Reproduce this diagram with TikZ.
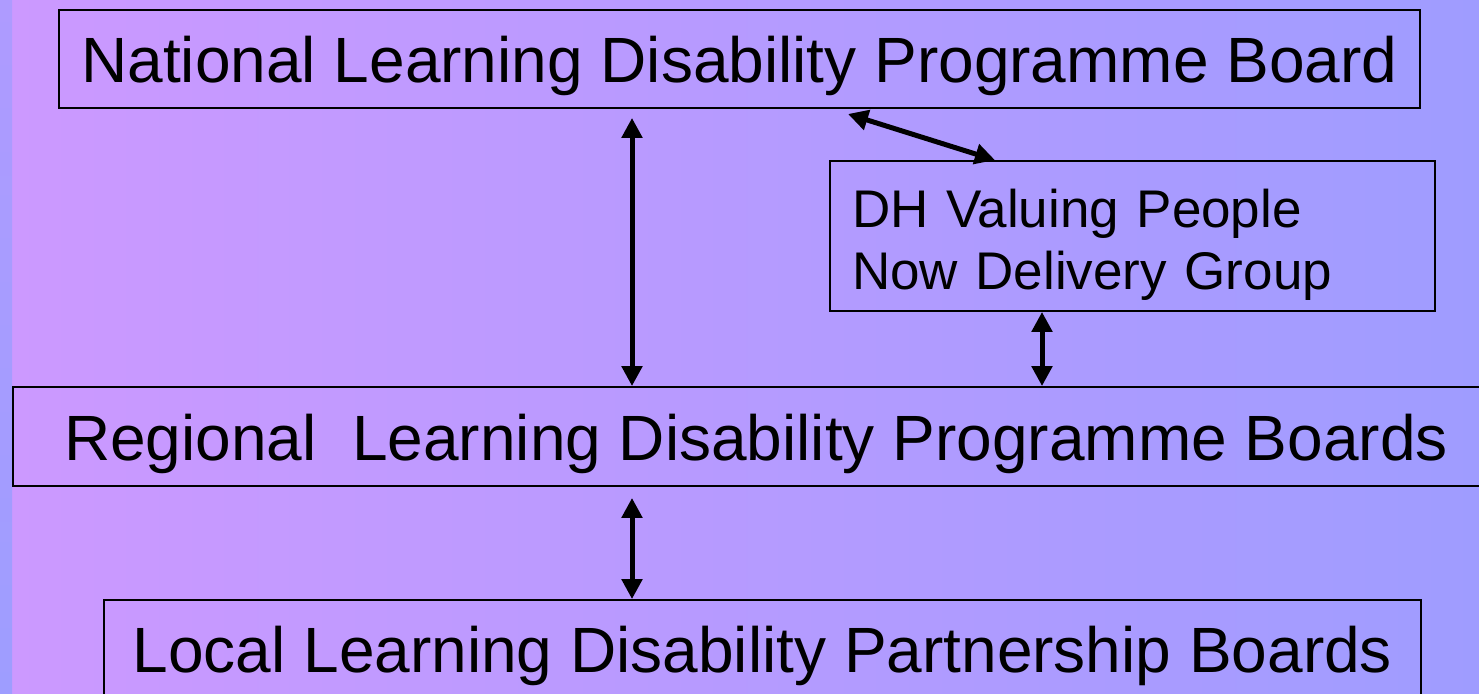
\documentclass[tikz,border=0pt]{standalone}
\usepackage{fontspec}
\setmainfont{Liberation Sans}
\usetikzlibrary{arrows.meta}
\definecolor{bgleft}{HTML}{CC99FF}
\definecolor{bgright}{HTML}{9F9CFF}
\definecolor{striptop}{HTML}{AE9BFF}
\definecolor{stripbot}{HTML}{9E9DFF}

\begin{document}
\begin{tikzpicture}[x=1pt, y=-1pt,
	board/.style={draw=black, line width=1.8pt, inner sep=0pt, text height=47pt, text depth=0pt, font=\fontsize{64}{77}\selectfont},
	link/.style={{Triangle[length=20pt,width=20pt]}-{Triangle[length=20pt,width=20pt]}, line width=5pt}]
	% background
	\useasboundingbox (0,0) rectangle (1479,693);
	\shade[left color=bgleft, right color=bgright] (12,0) rectangle (1479,693);
	\shade[top color=striptop, bottom color=stripbot] (0,0) rectangle (12,693);

	\node[board, minimum width=1361pt, minimum height=98pt]  (nat) at (739.5,59)  {National Learning Disability Programme Board};
	\node[board, minimum width=1486pt, minimum height=99pt]  (reg) at (756,436.5)  {Regional\ \ Learning Disability Programme Boards};
	\node[board, minimum width=1317pt, minimum height=98pt]  (loc) at (762.5,649) {Local Learning Disability Partnership Boards};
	\node[board, inner sep=22pt, text width=561pt, align=left, minimum height=150pt, text height=44pt, text depth=62pt, font=\fontsize{53}{62}\selectfont] (dh) at (1132.5,236) {DH Valuing People\\Now Delivery Group};

	\coordinate (c1) at (632,0);
	\coordinate (c2) at (1042,0);
	\coordinate (d0) at (848,114);
	\coordinate (d1) at (995,0);

	\path [link, shorten <=9pt]  (nat.south -| c1) edge (reg.north -| c1);
	\path [link]                 (d0) edge (dh.north -| d1);
	\path [link]                 (dh.south -| c2) edge (reg.north -| c2);
	\path [link, shorten <=11pt] (reg.south -| c1) edge (loc.north -| c1);
\end{tikzpicture}
\end{document}
